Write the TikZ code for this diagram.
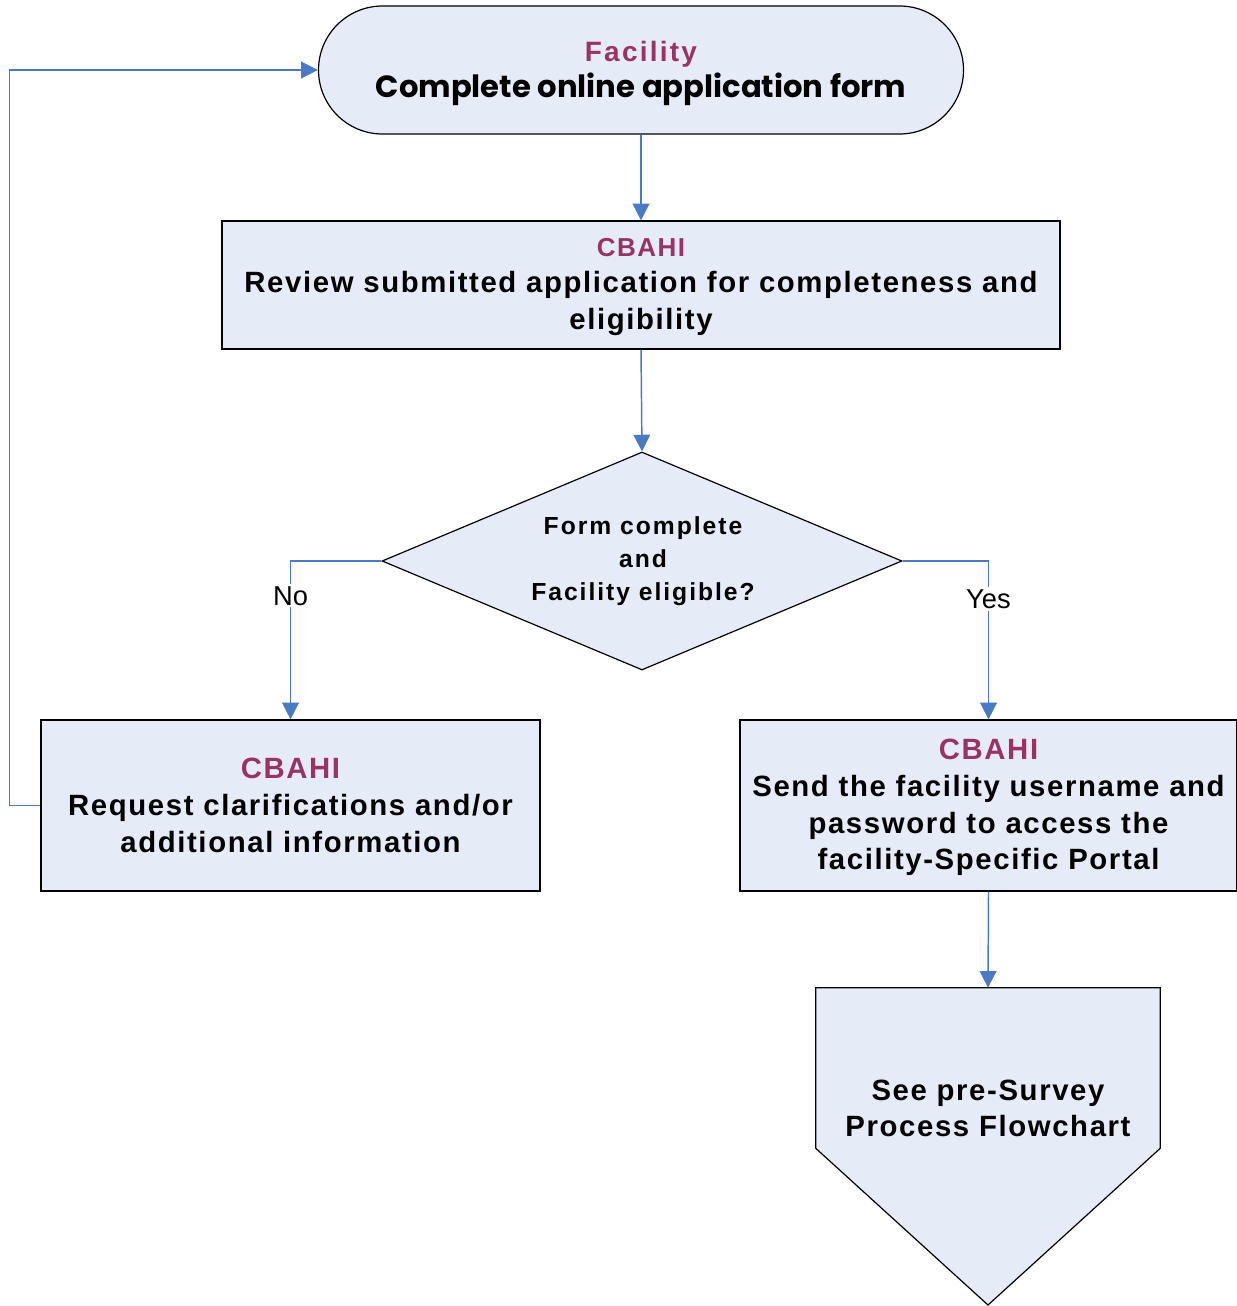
\documentclass[tikz,border=0pt]{standalone}
\usepackage{fontspec}
\setmainfont{Liberation Sans}
\newfontfamily\spaced{Liberation Sans}[LetterSpace=5.5]
\newfontfamily\wider{Liberation Sans}[LetterSpace=8]
\newfontfamily\gothic{Poppins}
\usetikzlibrary{shapes.geometric,shapes.misc,arrows.meta}
\definecolor{boxfill}{HTML}{E6ECF7}
\definecolor{linkblue}{HTML}{4A7AC4}
\definecolor{mag}{HTML}{993366}
\tikzset{
  shapebox/.style={draw=black, line width=0.9pt, fill=boxfill, align=center, inner sep=0pt,
    font=\spaced\bfseries\fontsize{22}{27.5}\selectfont},
  txt/.style={align=center, inner sep=0pt, font=\spaced\bfseries\fontsize{22}{27.5}\selectfont},
  arr/.style={draw=linkblue, line width=1.1pt, -{Triangle[width=12.5pt,length=12.5pt]}},
  lbl/.style={fill=white, inner sep=1.5pt, font=\fontsize{20.5}{22}\selectfont},
}
\begin{document}
\begin{tikzpicture}[x=0.75pt,y=-0.75pt]
\useasboundingbox (0,0) rectangle (1237,1306);
% top terminal
\node[shapebox, rounded rectangle, minimum width=483.75pt, minimum height=96pt] (term) at (641,70) {};
\node[txt] (termtext) at (641,73.5)
  {\textcolor{mag}{\wider\bfseries\fontsize{21}{27.5}\selectfont Facility}\\{\gothic\bfseries\fontsize{23}{27.5}\selectfont Complete online application form}};
% review box
\node[shapebox, rectangle, minimum width=628.5pt, minimum height=96pt] (review) at (641,285) {};
\node[txt] (reviewtext) at (641,287)
  {\textcolor{mag}{\fontsize{19.5}{27.5}\selectfont CBAHI}\\Review submitted application for completeness and\\eligibility};
% decision
\node[shapebox, diamond, minimum width=390pt, minimum height=163.5pt] (dec) at (642,561) {};
\node[txt, font=\wider\bfseries\fontsize{18.5}{24.75}\selectfont] (dectext) at (643,561)
  {Form complete\\and\\Facility eligible?};
% no / yes boxes
\node[shapebox, rectangle, minimum width=374.25pt, minimum height=128.25pt] (nobox) at (290.5,805.5)
  {\textcolor{mag}{CBAHI}\\Request clarifications and/or\\additional information};
\node[shapebox, rectangle, minimum width=372.75pt, minimum height=128.25pt] (yesbox) at (988.5,805.5) {};
\node[txt] (yestext) at (988.5,807.5)
  {\textcolor{mag}{CBAHI}\\Send the facility username and\\password to access the\\facility-Specific Portal};
% off-page connector
\node[inner sep=0pt, minimum width=258pt, minimum height=120pt] (pent) at (988,1068) {};
\draw[black, fill=boxfill, line width=0.9pt] (pent.north west) -- (pent.north east) -- (pent.south east)
  -- (988,1305) -- (pent.south west) -- cycle;
\node[txt] (penttext) at (988,1108.5) {See pre-Survey\\Process Flowchart};
% connectors
\draw[arr] (term.south) -- (review.north);
\draw[arr] (review.south) -- (dec.north);
\draw[arr] (dec.west) -| node[lbl, pos=0.61] {No} (nobox.north);
\draw[arr] (dec.east) -| node[lbl, pos=0.62] {Yes} (yesbox.north);
\draw[arr] (yesbox.south) -- (pent.north);
\draw[arr] (nobox.west) -- ++(-31,0) |- (term.west);
\end{tikzpicture}
\end{document}
